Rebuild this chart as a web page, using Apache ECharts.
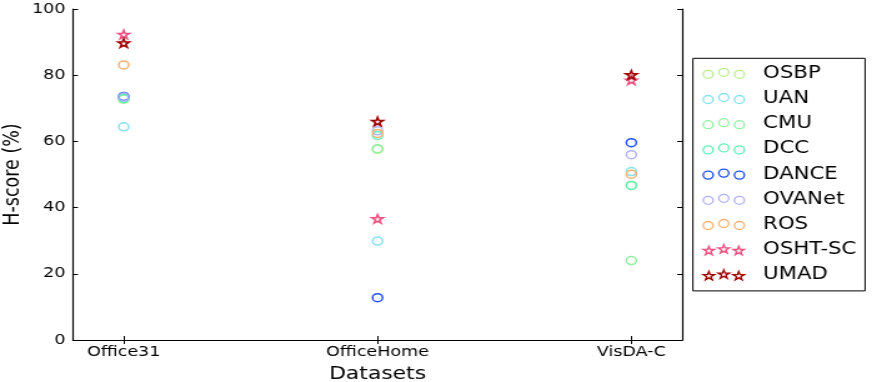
<!DOCTYPE html>
<html>
<head>
<meta charset="utf-8">
<script src="https://cdn.jsdelivr.net/npm/echarts@6/dist/echarts.min.js"></script>
<style>
  body { margin: 0; background: #fff; overflow: hidden; }
  /* the reference is a stretched image, so draw narrower and stretch it the same way */
  #main { width: 698px; height: 382px; transform: scaleX(1.2493); transform-origin: 0 0; }
</style>
</head>
<body>
<div id="main"></div>
<script>
var datasets = ['Office31', 'OfficeHome', 'VisDA-C']
var methods = ['OSBP', 'UAN', 'CMU', 'DCC', 'DANCE', 'OVANet', 'ROS', 'OSHT-SC', 'UMAD']
var colors = ['#b8f090', '#88e0ee', '#90f0a0', '#5ef0b4', '#2050f0', '#b0b0f8', '#f8b070', '#f05080', '#a00000']
var osbp = [72.8, 57.6, 46.7]
var uan = [64.4, 29.9, 50.9]
var cmu = [72.8, 57.8, 24.0]
var dcc = [73.0, 61.8, 46.7]
var dance = [73.6, 12.8, 59.6]
var ovanet = [73.4, 63.2, 56.0]
var ros = [83.1, 62.4, 50.1]
var oshtsc = [92.3, 36.6, 78.5]
var umad = [89.7, 66.0, 80.1]
var values = [osbp, uan, cmu, dcc, dance, ovanet, ros, oshtsc, umad]
var yTicks = [0, 20, 40, 60, 80, 100]

var font = 'DejaVu Sans'
var starPts = [[50,0],[61.17,34.63],[97.55,34.55],[68.07,55.87],[79.39,90.45],[50,69],[20.61,90.45],[31.93,55.87],[2.45,34.55],[38.83,34.63]]

function starPath(dx, dy, s) {
  var p = ''
  for (var i = 0; i < starPts.length; i++) {
    p += (i == 0 ? 'M' : 'L') + (dx + starPts[i][0] * s).toFixed(2) + ',' + (dy + starPts[i][1] * s).toFixed(2)
  }
  return p + 'Z'
}
function circlePath(cx, cy, r) {
  return 'M' + (cx - r) + ',' + cy + 'a' + r + ',' + r + ' 0 1,0 ' + (2 * r) + ',0a' + r + ',' + r + ' 0 1,0 ' + (-2 * r) + ',0Z'
}
var starSymbol = 'path://' + starPath(0, 0, 1)
var circleIcon = 'path://' + circlePath(4, 6, 4) + circlePath(16.5, 4, 4) + circlePath(29, 6, 4)
var starIcon = 'path://' + starPath(0, 1.5, 0.09) + starPath(11.5, 0, 0.09) + starPath(23, 1.5, 0.09)

var series = []
var legendData = []
for (var i = 0; i < methods.length; i++) {
  var isStar = methods[i] == 'OSHT-SC' || methods[i] == 'UMAD'
  var pts = []
  for (var j = 0; j < datasets.length; j++) {
    pts.push([j + 1, values[i][j]])
  }
  series.push({
    type: 'scatter',
    name: methods[i],
    symbol: isStar ? starSymbol : 'circle',
    symbolKeepAspect: true,
    symbolSize: isStar ? 9 : 8,
    itemStyle: { color: 'rgba(255,255,255,0)', borderColor: colors[i], borderWidth: 1.5, opacity: 1 },
    emphasis: { disabled: true },
    data: pts
  })
  legendData.push({
    name: methods[i],
    icon: isStar ? starIcon : circleIcon,
    itemStyle: { color: 'rgba(255,255,255,0)', borderColor: colors[i], borderWidth: 1.3 }
  })
}

var myChart = echarts.init(document.getElementById('main'))
var option = {
  animation: false,
  grid: { left: 58.4, right: 152, top: 9, bottom: 42, outerBoundsMode: 'none', containLabel: false },
  legend: {
    data: legendData,
    orient: 'vertical',
    left: 554.6,
    top: 58.3,
    padding: [5, 7, 6, 7.6],
    itemWidth: 33,
    itemHeight: 10,
    itemGap: 5.2,
    borderColor: '#000',
    borderWidth: 1,
    textStyle: { fontFamily: font, fontSize: 17, color: '#000', lineHeight: 20, padding: [0, 0, 0, 10] },
    selectedMode: false
  },
  xAxis: [
    {
      type: 'value',
      min: 0.8,
      max: 3.2,
      name: 'Datasets',
      nameLocation: 'middle',
      nameGap: 25,
      nameMoveOverlap: false,
      nameTextStyle: { fontFamily: font, fontSize: 17.5, color: '#000' },
      axisLine: { lineStyle: { color: '#000', width: 1.2 } },
      axisTick: { inside: true, length: 4, customValues: [1, 2, 3], lineStyle: { color: '#000' } },
      axisLabel: {
        customValues: [1, 2, 3],
        fontFamily: font, fontSize: 14, color: '#000', margin: 5,
        formatter: function (v) { return datasets[Math.round(v) - 1] }
      },
      splitLine: { show: false }
    },
    {
      type: 'value',
      position: 'top',
      min: 0.8,
      max: 3.2,
      axisLine: { lineStyle: { color: '#000', width: 1.2 } },
      axisTick: { inside: true, length: 4, customValues: [1, 2, 3], lineStyle: { color: '#000' } },
      axisLabel: { show: false },
      splitLine: { show: false }
    }
  ],
  yAxis: [
    {
      type: 'value',
      min: 0,
      max: 100,
      interval: 20,
      name: 'H-score (%)',
      nameLocation: 'middle',
      nameGap: 38.5,
      nameMoveOverlap: false,
      nameTextStyle: { fontFamily: font, fontSize: 17.5, color: '#000' },
      axisLine: { show: true, lineStyle: { color: '#000', width: 1.2 } },
      axisTick: { show: true, inside: true, length: 4, lineStyle: { color: '#000' } },
      axisLabel: { fontFamily: font, fontSize: 14, color: '#000', margin: 6, customValues: yTicks },
      splitLine: { show: false }
    },
    {
      type: 'value',
      position: 'right',
      min: 0,
      max: 100,
      interval: 20,
      axisLine: { show: true, lineStyle: { color: '#000', width: 1.2 } },
      axisTick: { show: true, inside: true, length: 4, lineStyle: { color: '#000' } },
      axisLabel: { show: false },
      splitLine: { show: false }
    }
  ],
  series: series
}
myChart.setOption(option)
</script>
</body>
</html>
